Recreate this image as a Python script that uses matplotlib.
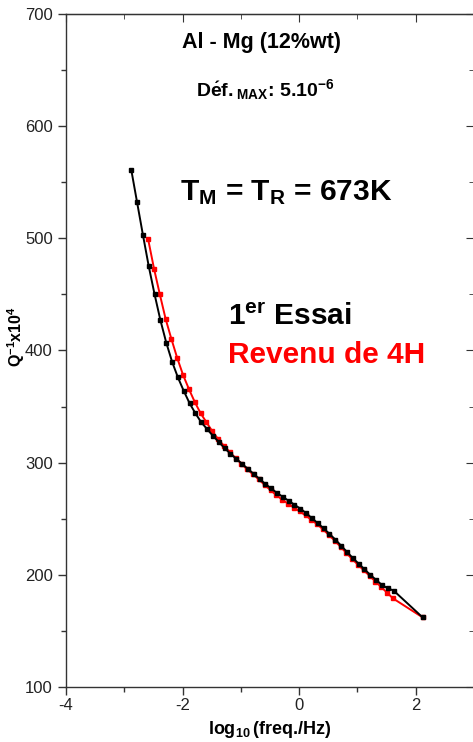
import matplotlib
matplotlib.use("Agg")
import matplotlib.pyplot as plt
from matplotlib.ticker import MultipleLocator

plt.rcParams['font.family'] = ['Liberation Sans', 'DejaVu Sans']
plt.rcParams['mathtext.fontset'] = 'custom'
plt.rcParams['mathtext.rm'] = 'Liberation Sans:bold'
plt.rcParams['mathtext.bf'] = 'Liberation Sans:bold'
plt.rcParams['mathtext.it'] = 'Liberation Sans:bold'
plt.rcParams['mathtext.default'] = 'bf'
plt.rcParams['axes.unicode_minus'] = False

# 1er essai (noir)
x_essai = [-2.88, -2.78, -2.68, -2.58, -2.48, -2.38, -2.28, -2.18, -2.08, -1.98,
           -1.88, -1.78, -1.68, -1.58, -1.48, -1.38, -1.28, -1.18, -1.08, -0.98,
           -0.88, -0.78, -0.68, -0.58, -0.48, -0.38, -0.28, -0.18, -0.08, 0.02,
           0.12, 0.22, 0.32, 0.42, 0.52, 0.62, 0.72, 0.82, 0.92, 1.02,
           1.12, 1.22, 1.32, 1.42, 1.52, 1.62, 2.12]
q_essai = [561, 532, 503, 475, 450, 427, 407, 390, 376, 364,
           353, 344, 336, 330, 324, 318.5, 313, 308, 303.5, 299,
           294.5, 290, 285.5, 281, 277, 273, 269.5, 266, 262.5, 259,
           255, 250.5, 246, 241.5, 236.5, 231.5, 226, 220.5, 215, 210,
           205, 200, 195.5, 191, 188, 186, 162]

# Revenu de 4H (rouge)
x_revenu = [-2.59, -2.49, -2.39, -2.29, -2.19, -2.09, -1.99, -1.89, -1.79, -1.69,
            -1.59, -1.49, -1.39, -1.29, -1.19, -1.09, -0.99, -0.89, -0.79, -0.69,
            -0.59, -0.49, -0.39, -0.29, -0.19, -0.09, 0.01, 0.11, 0.21, 0.31,
            0.41, 0.51, 0.61, 0.71, 0.81, 0.91, 1.01, 1.11, 1.21, 1.31,
            1.41, 1.51, 1.61, 2.12]
q_revenu = [499, 473, 450, 428, 410, 393, 378, 365.5, 354, 344,
            336, 328, 321, 315, 309.5, 304, 299, 294, 289.5, 285,
            280, 275.5, 271, 267, 263.5, 260, 256.5, 253, 249, 245,
            240.5, 235.5, 230.5, 225, 219.5, 214, 209, 204, 199, 194,
            189, 184, 179, 162]

fig = plt.figure(figsize=(4.73, 7.42), dpi=100)
ax = fig.add_axes([66 / 473, 1 - 687 / 742, (474 - 66) / 473, (687 - 14) / 742])

ax.plot(x_revenu, q_revenu, color='red', marker='s', markersize=3.5, linewidth=1.4)
ax.plot(x_essai, q_essai, color='black', marker='s', markersize=3.5, linewidth=1.4)

ax.set_xlim(-4, 3)
ax.set_ylim(100, 700)
ax.xaxis.set_major_locator(MultipleLocator(2))
ax.xaxis.set_minor_locator(MultipleLocator(1))
ax.yaxis.set_major_locator(MultipleLocator(100))
ax.yaxis.set_minor_locator(MultipleLocator(50))
ax.tick_params(which='both', direction='out', top=False, right=False,
               labelsize=12, width=1.0, color='#333333', labelcolor='#222222')
ax.tick_params(which='major', length=6)
ax.tick_params(which='minor', length=3.5)
ax.tick_params(axis='x', pad=2)
for s in ax.spines.values():
    s.set_linewidth(1.0)
    s.set_color('#333333')

# graduations intérieures en haut et à droite
top = ax.secondary_xaxis('top')
top.xaxis.set_major_locator(MultipleLocator(2))
top.xaxis.set_minor_locator(MultipleLocator(1))
top.tick_params(which='both', direction='in', labeltop=False, color='#333333')
top.tick_params(which='major', length=6)
top.tick_params(which='minor', length=3.5)
right = ax.secondary_yaxis('right')
right.yaxis.set_major_locator(MultipleLocator(100))
right.yaxis.set_minor_locator(MultipleLocator(50))
right.tick_params(which='both', direction='in', labelright=False, color='#333333')
right.tick_params(which='major', length=6)
right.tick_params(which='minor', length=3.5)

ax.set_xlabel(r'$\log_{10}$(freq./Hz)', fontsize=13, fontweight='bold')
ax.xaxis.set_label_coords(0.5, -0.047)
ax.set_ylabel(r'$Q^{-1}$x$10^4$', fontsize=11.5, fontweight='bold')
ax.yaxis.set_label_coords(-0.095, 0.52)

ax.text(0.48, 0.958, 'Al - Mg (12%wt)', transform=ax.transAxes,
        ha='center', va='center', fontsize=15.5, fontweight='bold')
ax.text(0.488, 0.887, r'$D\acute{e}f._{MAX}$: $5.10^{-6}$', transform=ax.transAxes,
        ha='center', va='center', fontsize=14, fontweight='bold')
ax.text(0.54, 0.735, r'$T_M$ = $T_R$ = 673K', transform=ax.transAxes,
        ha='center', va='center', fontsize=21.5, fontweight='bold')
ax.text(0.397, 0.55, r'$1^{er}$ Essai', transform=ax.transAxes,
        ha='left', va='center', fontsize=21.5, fontweight='bold')
ax.text(0.397, 0.493, 'Revenu de 4H', transform=ax.transAxes, color='red',
        ha='left', va='center', fontsize=21.5, fontweight='bold')

fig.savefig('out.png', dpi=100)
